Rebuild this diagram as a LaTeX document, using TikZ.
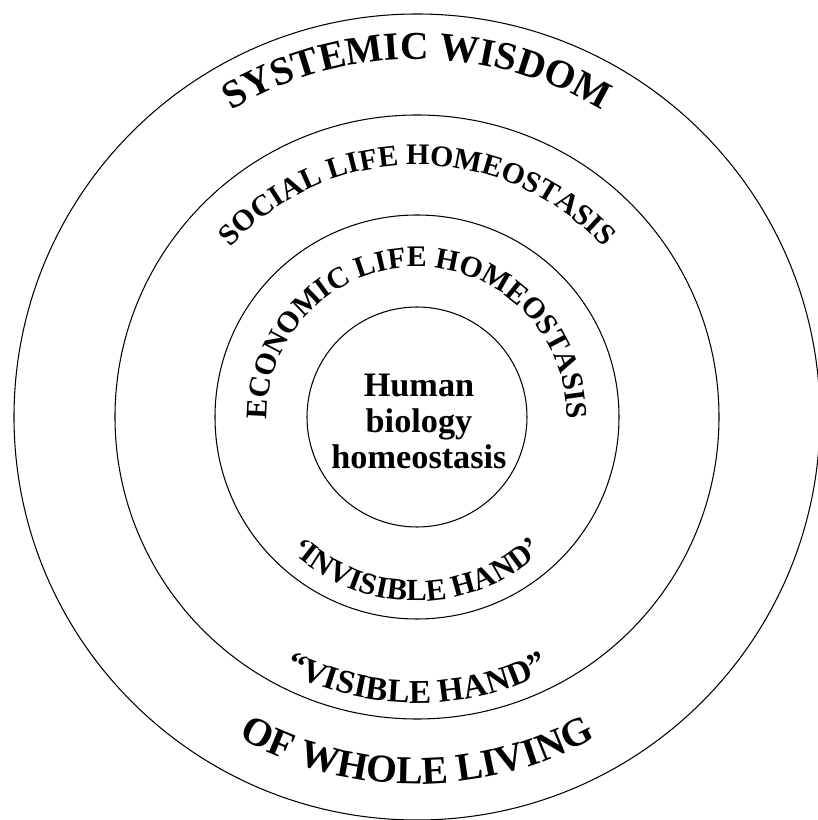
\documentclass[tikz,border=0pt]{standalone}
\usepackage{fontspec}
\setmainfont{Liberation Serif}
\usetikzlibrary{decorations.text}
\newcommand\wisdomfont{\fontsize{22.5}{27}\selectfont\bfseries}
\newcommand\lifefont{\fontsize{17}{20}\selectfont\bfseries}
\newcommand\handfont{\fontsize{19}{23}\selectfont\bfseries}
\newcommand\invhandfont{\fontsize{17.5}{21}\selectfont\bfseries}
\newcommand\corefont{\fontsize{19.5}{20.5}\selectfont\bfseries}

\begin{document}
\begin{tikzpicture}[
  ring/.style={circle, draw, line width=0.6pt, inner sep=0pt, outer sep=0pt},
  toparc/.style={decorate, decoration={text along path, text align=center, text={#1}}},
  botarc/.style={decorate, decoration={text along path, text align=center, text={#1}}},
  core/.style={align=center, font=\corefont, inner sep=0pt},
]
  \useasboundingbox (-8.34,-8.06) rectangle (8.0,8.34);
  \coordinate (c) at (0,0);
  % rings
  \node[ring, minimum size=16.12cm] (wisdom) at (c) {};
  \node[ring, minimum size=12.08cm] (social) at (c) {};
  \node[ring, minimum size=8.08cm] (economic) at (c) {};
  \node[ring, minimum size=4.4cm] (biology) at (c) {};
  \node[core] (biolabel) at (0.04,-0.08) {Human\\biology\\homeostasis};
  % upper texts
  \path[toparc={|\wisdomfont|SYSTEMIC WISDOM}] (180:7.16) arc[start angle=180, end angle=0, radius=7.16];
  \path[toparc={|\lifefont|SOCIAL LIFE HOMEOSTASIS}] (180:5.04) arc[start angle=180, end angle=0, radius=5.04];
  \path[toparc={|\lifefont|ECONOMIC LIFE HOMEOSTASIS}] (183:3.0) arc[start angle=183, end angle=-3, radius=3.0];
  % lower texts
  \path[botarc={|\invhandfont|‘INVISIBLE HAND’}] (180:3.68) arc[start angle=180, end angle=360, radius=3.68];
  \path[botarc={|\handfont|“VISIBLE HAND”}] (180:5.72) arc[start angle=180, end angle=360, radius=5.72];
  \path[botarc={|\wisdomfont|OF WHOLE LIVING}] (180:7.34) arc[start angle=180, end angle=360, radius=7.34];
\end{tikzpicture}
\end{document}
